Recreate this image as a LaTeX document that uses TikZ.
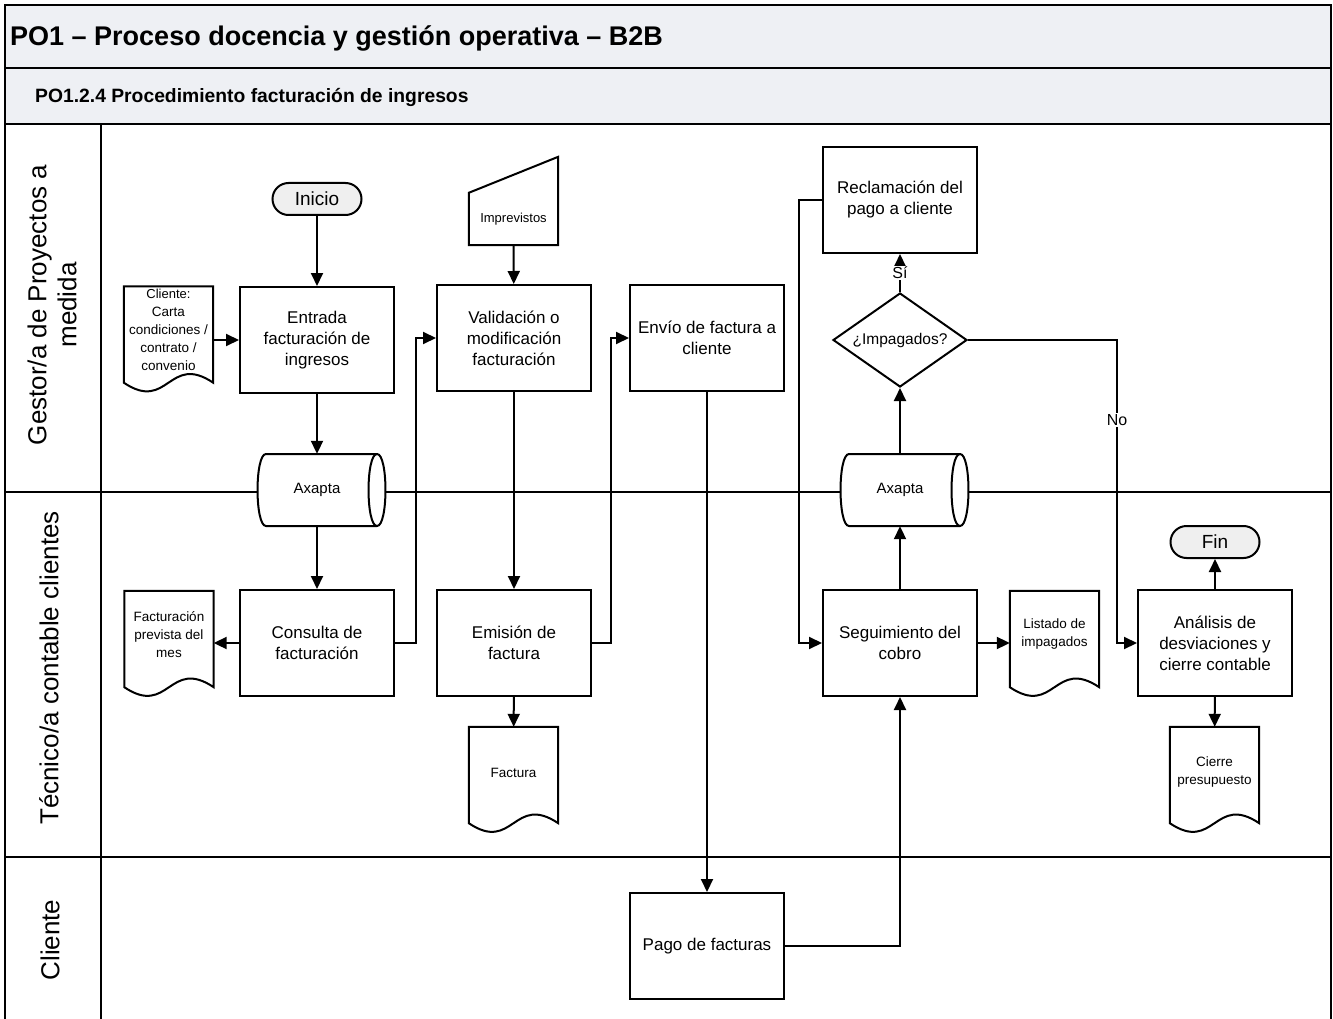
\documentclass[tikz,border=0pt]{standalone}
\usepackage{fontspec}
\setmainfont{Liberation Sans}
\usetikzlibrary{arrows.meta,shapes.geometric,calc}
\definecolor{hdrfill}{HTML}{EEF0F4}
\definecolor{termfill}{HTML}{EFEFEF}
\newcommand\drawcyl[1]{%
  \draw[sl,fill=white] ($(#1)+(-51,-36)$) -- ($(#1)+(60,-36)$)
    .. controls ($(#1)+(71.3,-36)$) and ($(#1)+(71.3,36)$) .. ($(#1)+(60,36)$)
    -- ($(#1)+(-51,36)$)
    .. controls ($(#1)+(-62.3,36)$) and ($(#1)+(-62.3,-36)$) .. ($(#1)+(-51,-36)$) -- cycle;
  \draw[sl] ($(#1)+(60,-36)$) .. controls ($(#1)+(48.7,-36)$) and ($(#1)+(48.7,36)$) .. ($(#1)+(60,36)$);}
% #1 name, #2 position, #3 vertical text offset, #4 text
\newcommand\docat[4]{%
  \node[docnode] (#1) at (#2) {};
  \draw[sl] (#1.north west) -- (#1.north east) -- (#1.south east)
    .. controls ($(#1.south)+(0,-30)$) and ($(#1.south)+(0,30)$) .. (#1.south west) -- cycle;
  \node[doctext] (#1-text) at ($(#1)+(0,#3)$) {#4};}
\begin{document}
\begin{tikzpicture}[x=1pt,y=-1pt,
  sl/.style={line width=2pt},
  frame/.style={line width=2.3pt},
  box/.style={draw,sl,minimum width=154pt,minimum height=106pt,align=center,
    font=\fontsize{17}{21}\selectfont,inner sep=2pt},
  term/.style={draw,sl,fill=termfill,rounded corners=16pt,minimum width=89pt,
    minimum height=32pt,font=\fontsize{19}{22}\selectfont,inner sep=0pt},
  docnode/.style={minimum width=89pt,minimum height=96pt,inner sep=0pt},
  doctext/.style={align=center,font=\fontsize{13.5}{18}\selectfont,inner sep=0pt},
  cylnode/.style={minimum width=119pt,minimum height=72pt,inner sep=0pt,
    font=\fontsize{15}{18}\selectfont},
  arr/.style={sl,-{Triangle[length=13pt,width=12pt]}},
  lbl/.style={fill=white,inner sep=1.5pt,font=\fontsize{16}{18}\selectfont},
  lane/.style={rotate=90,align=center,font=\fontsize{26}{30}\selectfont}]
\useasboundingbox (0,0) rectangle (1333,1019);
% frame and bands
\fill[hdrfill] (5,5) rectangle (1331,124);
\draw[frame] (5,1019) -- (5,5) -- (1331,5) -- (1331,1019);
\draw[frame] (5,68) -- (1331,68);
\draw[frame] (5,124) -- (1331,124);
\draw[frame] (5,492) -- (1331,492);
\draw[frame] (5,857) -- (1331,857);
\draw[frame] (101,124) -- (101,1019);
\node[anchor=west,font=\bfseries\fontsize{27}{30}\selectfont,inner sep=0pt] (title) at (10,38) {PO1 – Proceso docencia y gestión operativa – B2B};
\node[anchor=west,font=\bfseries\fontsize{19.3}{22}\selectfont,inner sep=0pt] (subtitle) at (35,97) {PO1.2.4 Procedimiento facturación de ingresos};
\node[lane] (lane1) at (52,305) {Gestor/a de Proyectos a\\medida};
\node[lane] (lane2) at (49,668) {Técnico/a contable clientes};
\node[lane] (lane3) at (50,940) {Cliente};

% cylinders
\coordinate (ax1c) at (317,490);
\drawcyl{ax1c}
\node[cylnode] (ax1) at (ax1c) {Axapta};
\coordinate (ax2c) at (900,490);
\drawcyl{ax2c}
\node[cylnode] (ax2) at (ax2c) {Axapta};

% terminals
\node[term] (inicio) at (317,199) {Inicio};
\node[term] (fin) at (1215,542) {Fin};

% process boxes
\node[box] (entrada) at (317,340) {Entrada\\facturación de\\ingresos};
\node[box] (consulta) at (317,643) {Consulta de\\facturación};
\node[box] (valid) at (514,338) {Validación o\\modificación\\facturación};
\node[box] (emision) at (514,643) {Emisión de\\factura};
\node[box] (envio) at (707,338) {Envío de factura a\\cliente};
\node[box] (pago) at (707,946) {Pago de facturas};
\node[box] (reclam) at (900,200) {Reclamación del\\pago a cliente};
\node[box] (seguim) at (900,643) {Seguimiento del\\cobro};
\node[box] (analisis) at (1215,643) {Análisis de\\desviaciones y\\cierre contable};

% decision
\node[diamond,draw,sl,shape aspect=1.4,minimum width=134pt,minimum height=94pt,
  inner sep=0pt,font=\fontsize{15.5}{18}\selectfont] (diam) at (900,340) {¿Impagados?};

% documents
\docat{clidoc}{168.5,334.5}{-5}{\fontsize{13}{17}\selectfont Cliente:\\Carta\\condiciones /\\contrato /\\convenio}
\docat{factprev}{169,639}{-4}{Facturación\\prevista del\\mes}
\docat{factdoc}{513.5,775}{-2}{Factura}
\docat{listado}{1054.5,639}{-5}{Listado de\\impagados}
\docat{cierre}{1214.5,775}{-3}{Cierre\\presupuesto}

% manual input
\node[minimum width=89pt,minimum height=52pt,inner sep=0pt,
  font=\fontsize{13}{16}\selectfont] (imprev) at (513.5,219) {Imprevistos};
\draw[sl] (imprev.north west) -- ($(imprev.north east)+(0,-36)$) -- (imprev.south east) -- (imprev.south west) -- cycle;

% connectors
\draw[arr] (inicio) -- (entrada);
\draw[arr] (clidoc.east |- entrada.west) -- (entrada.west);
\draw[arr] (entrada) -- (ax1);
\draw[arr] (ax1) -- (consulta);
\draw[arr] (consulta.west) -- (factprev.east |- consulta.west);
\draw[arr] (consulta.east) -| ($(consulta.east)!.5!(valid.west)$) |- (valid.west);
\draw[arr] (imprev) -- (valid);
\draw[arr] (valid) -- (emision);
\draw[arr] (emision) -- (factdoc);
\draw[arr] (emision.east) -| ($(emision.east)!.5!(envio.west)$) |- (envio.west);
\draw[arr] (envio) -- (pago);
\draw[arr] (pago.east) -| (seguim.south);
\draw[arr] (seguim) -- (ax2);
\draw[arr] (ax2) -- (diam);
\draw[arr] (diam) -- node[lbl] {Sí} (reclam);
\coordinate (nox) at (1117,340);
\draw[arr] (diam.east) -- (nox) |- (analisis.west);
\node[lbl] (nolbl) at (1117,420) {No};
\coordinate (recx) at (799,200);
\draw[arr] (reclam.west) -- (recx) |- (seguim.west);
\draw[arr] (seguim) -- (listado.west |- seguim);
\draw[arr] (analisis) -- (fin);
\draw[arr] (analisis) -- (cierre);
\end{tikzpicture}
\end{document}
